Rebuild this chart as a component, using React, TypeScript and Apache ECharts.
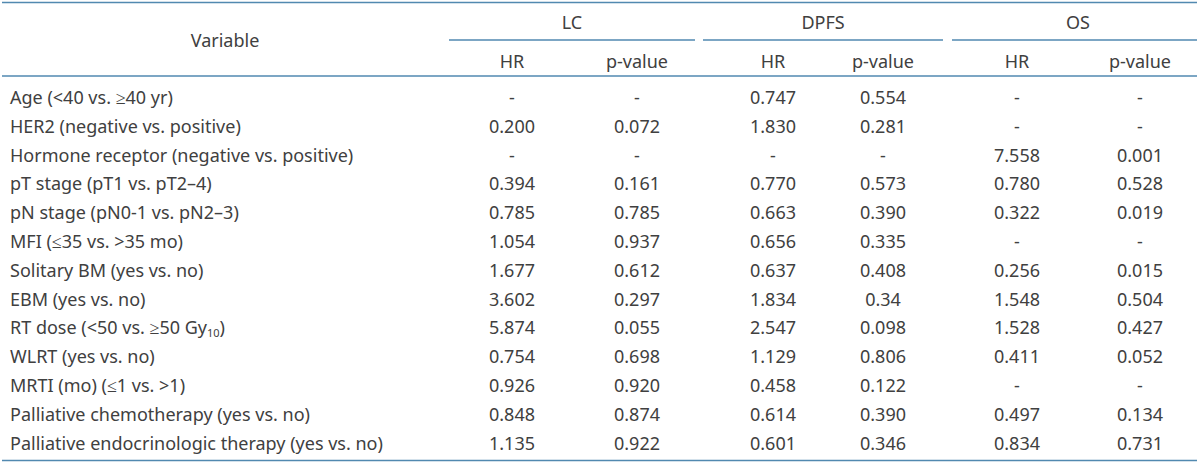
import React, { useEffect, useRef } from "react";
import * as echarts from "echarts";

const variables: string[] = [
  "Age (<40 vs. ≥40 yr)",
  "HER2 (negative vs. positive)",
  "Hormone receptor (negative vs. positive)",
  "pT stage (pT1 vs. pT2–4)",
  "pN stage (pN0-1 vs. pN2–3)",
  "MFI (≤35 vs. >35 mo)",
  "Solitary BM (yes vs. no)",
  "EBM (yes vs. no)",
  "{b|RT dose (<50 vs. ≥50 Gy}{sub|10}{b|)}",
  "WLRT (yes vs. no)",
  "MRTI (mo) (≤1 vs. >1)",
  "Palliative chemotherapy (yes vs. no)",
  "Palliative endocrinologic therapy (yes vs. no)",
];

const groups: string[] = ["LC", "DPFS", "OS"];
const subHeaders: string[] = ["HR", "p-value"];

const lcHR: string[] = ["-", "0.200", "-", "0.394", "0.785", "1.054", "1.677", "3.602", "5.874", "0.754", "0.926", "0.848", "1.135"];
const lcP: string[] = ["-", "0.072", "-", "0.161", "0.785", "0.937", "0.612", "0.297", "0.055", "0.698", "0.920", "0.874", "0.922"];
const dpfsHR: string[] = ["0.747", "1.830", "-", "0.770", "0.663", "0.656", "0.637", "1.834", "2.547", "1.129", "0.458", "0.614", "0.601"];
const dpfsP: string[] = ["0.554", "0.281", "-", "0.573", "0.390", "0.335", "0.408", "0.34", "0.098", "0.806", "0.122", "0.390", "0.346"];
const osHR: string[] = ["-", "-", "7.558", "0.780", "0.322", "-", "0.256", "1.548", "1.528", "0.411", "-", "0.497", "0.834"];
const osP: string[] = ["-", "-", "0.001", "0.528", "0.019", "-", "0.015", "0.504", "0.427", "0.052", "-", "0.134", "0.731"];

export default function App() {
  const ref = useRef<HTMLDivElement>(null);
  useEffect(() => {
    if (!ref.current) return;
    const chart = echarts.init(ref.current, null, { renderer: "svg" });
    const FONT = "Noto Sans";
    const SIZE = 18;
    const TXT = "#404040";
    const LINE = "#5189b0";
    const colX = [512, 637, 773, 883, 1017, 1140];
    const groupX = [572, 823, 1078];
    const groupLine: [number, number][] = [[449, 695], [703, 943], [952, 1197]];
    const rowY0 = 97;
    const rowH = 28.8;
    const left = 2;
    const right = 1197;
    const columns = [lcHR, lcP, dpfsHR, dpfsP, osHR, osP];
    const fontStr = `${SIZE}px ${FONT}`;

    const els: any[] = [];
    const hline = (x1: number, x2: number, y: number) =>
      els.push({ type: "line", shape: { x1, y1: y, x2, y2: y }, style: { stroke: LINE, lineWidth: 1.6 } });
    const text = (t: string, x: number, y: number, align: string) => {
      const style: any = {
        text: t,
        x: 0,
        y: 0,
        align,
        verticalAlign: "middle",
        fill: TXT,
        font: fontStr,
        fontSize: SIZE,
        fontFamily: FONT,
      };
      if (t.indexOf("{") >= 0) {
        style.rich = {
          b: { font: fontStr, fontSize: SIZE, fontFamily: FONT, fill: TXT },
          sub: { font: `11px ${FONT}`, fontSize: 11, fontFamily: FONT, fill: TXT, padding: [10, 0, 0, 0] },
        };
      }
      els.push({ type: "text", x, y, style });
    };

    hline(left, right, 2.5);
    hline(left, right, 76);
    hline(left, right, 460.5);
    groupLine.forEach(([a, b]) => hline(a, b, 40));
    text("Variable", 225, 40, "center");
    groups.forEach((g, i) => text(g, groupX[i], 22, "center"));
    colX.forEach((x, i) => text(subHeaders[i % 2], x, 61, "center"));
    variables.forEach((v, r) => {
      const y = rowY0 + r * rowH;
      text(v, 10, y, "left");
      columns.forEach((col, c) => text(col[r], colX[c], y, "center"));
    });

    chart.setOption({ animation: false, graphic: { elements: els } });
    return () => chart.dispose();
  }, []);
  return <div ref={ref} style={{ position: "fixed", left: 0, top: 0, width: 1200, height: 465, background: "#fff" }} />;
}
